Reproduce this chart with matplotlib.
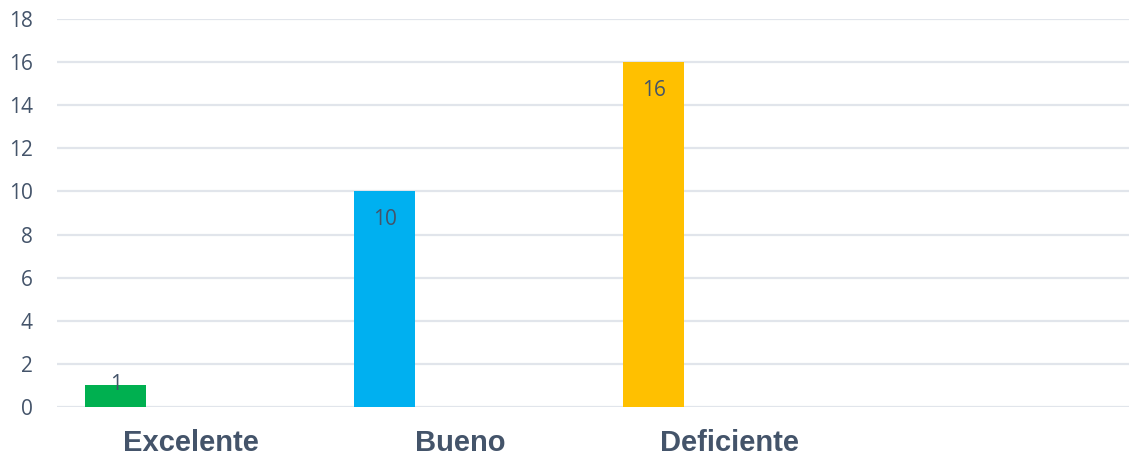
import matplotlib
matplotlib.use("Agg")
import matplotlib.pyplot as plt

# Evaluation results per rating category
categories = ["Excelente", "Bueno", "Deficiente", ""]
counts = [1, 10, 16, None]
bar_colors = ["#00B050", "#00B0F0", "#FFC000", None]
y_ticks = [0, 2, 4, 6, 8, 10, 12, 14, 16, 18]

text_color = "#44546A"
grid_color = "#E1E5EB"

fig = plt.figure(figsize=(11.29, 4.58), dpi=100)
ax = fig.add_axes([56.5 / 1129, 51 / 458, 1076 / 1129, 388 / 458])

offset = -0.28
width = 0.228
px_per_unit = 388 / 18

for i, (v, c) in enumerate(zip(counts, bar_colors)):
    if v is None:
        continue
    ax.bar(i + offset, v, width=width, color=c, zorder=3)
    bar_px = v * px_per_unit
    if bar_px > 40:
        dy = -28
    else:
        dy = 1
    ax.annotate(str(v), xy=(i + offset, v), xytext=(0, dy),
                textcoords="offset pixels", ha="center", va="center",
                fontsize=15, color=text_color, family="Open Sans", zorder=4)

ax.set_xlim(-0.5, len(categories) - 0.5)
ax.set_ylim(0, 18)
ax.set_yticks(y_ticks)
ax.set_yticklabels([str(t) for t in y_ticks], family="Open Sans",
                   fontsize=15, color=text_color)
ax.set_xticks(range(len(categories)))
ax.set_xticklabels(categories, family="Liberation Sans", fontweight="bold",
                   fontsize=21, color=text_color)

ax.tick_params(axis="y", length=0, pad=17)
ax.tick_params(axis="x", length=0, pad=16)
ax.grid(axis="y", color=grid_color, linewidth=1.6, zorder=0)
for s in ax.spines.values():
    s.set_visible(False)

fig.savefig("out.png", dpi=100)
